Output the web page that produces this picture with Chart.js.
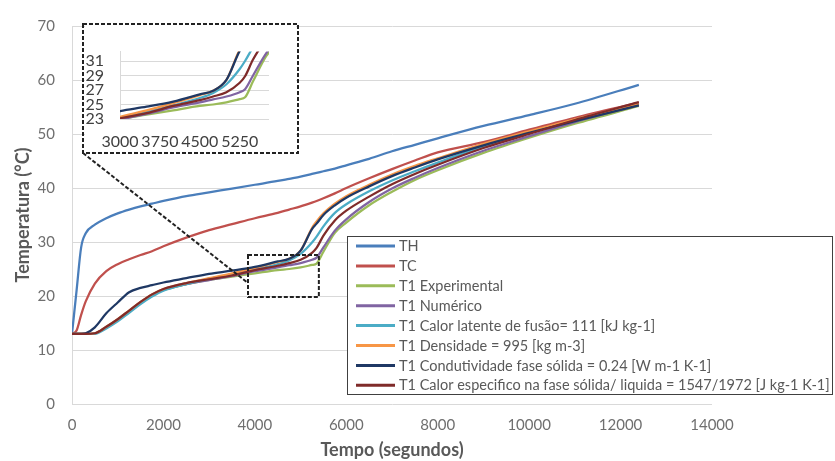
<!DOCTYPE html>
<html>
<head>
<meta charset="utf-8">
<script src="https://cdn.jsdelivr.net/npm/chart.js@4.4.1/dist/chart.umd.min.js"></script>
<style>
  html, body { margin: 0; padding: 0; background: #fff; }
  #wrap { position: relative; width: 835px; height: 461px; }
  #inset { position: absolute; left: 85px; top: 26px; width: 211px; height: 125px; background: #fff; }
</style>
</head>
<body>
<div id="wrap">
  <canvas id="mainChart" width="835" height="461"></canvas>
  <div id="inset"><canvas id="insetChart" width="211" height="125"></canvas></div>
</div>
<script>
// Time axis (seconds), shared by every series
const times = [0, 100, 200, 300, 500, 750, 1000, 1250, 1500, 1750, 2000, 2500,
  3000, 3500, 4000, 4500, 4750, 5000, 5250, 5350, 5500, 5750, 6000, 6500, 7000, 7500, 8000, 9000, 10000, 11000, 12400];

// Temperatures (°C)
const th = [13, 21, 29, 31.6, 33.2, 34.4, 35.3, 36, 36.6, 37.1, 37.6, 38.5,
  39.2, 39.9, 40.6, 41.3, 41.7, 42.1, 42.6, 42.8, 43.1, 43.6, 44.2, 45.4, 46.8, 48, 49.2, 51.5, 53.5, 55.6, 59.1];
const tc = [13, 13.6, 16.5, 19, 22.3, 24.6, 25.9, 26.8, 27.6, 28.3, 29.2, 30.8,
  32.2, 33.3, 34.4, 35.4, 36, 36.6, 37.3, 37.6, 38.1, 39, 40, 41.8, 43.5, 45.1, 46.6, 48.5, 50.8, 53, 55.8];
const t1Experimental = [13, 13, 13, 13, 13.1, 14.2, 15.6, 17.2, 18.8, 20.2, 21.1, 22.2,
  23, 23.6, 24.2, 24.8, 25, 25.3, 25.75, 26, 28.2, 31.7, 33.6, 36.8, 39.3, 41.5, 43.3, 46.5, 49.3, 51.9, 55.2];
const t1Numerico = [13, 13, 13, 13, 13.1, 14.2, 15.5, 17.1, 18.7, 20.1, 21.1, 22.2,
  22.95, 23.7, 24.6, 25.3, 25.7, 26.1, 26.7, 27.1, 29, 32.1, 34.2, 37.4, 39.9, 41.9, 43.7, 46.9, 49.6, 52.2, 55.4];
const t1Latente = [13, 13, 13, 13, 13, 14, 15.3, 16.9, 18.5, 19.9, 21, 22.2,
  23.2, 24, 24.9, 25.9, 26.6, 27.8, 29.9, 31, 32.9, 35.4, 37, 39.4, 41.4, 43.1, 44.7, 47.7, 50.2, 52.6, 55.5];
const t1Densidade = [13, 13, 13, 13, 13.1, 14.3, 15.7, 17.3, 18.9, 20.3, 21.3, 22.4,
  23.3, 24.2, 25.2, 26.3, 26.9, 28.4, 32.6, 33.8, 35.3, 37.1, 38.5, 40.6, 42.5, 44.1, 45.5, 48.2, 50.5, 52.7, 55.6];
const t1Condutividade = [13, 13, 13, 13.1, 14.2, 16.8, 18.8, 20.7, 21.5, 22, 22.5, 23.3,
  24.1, 24.7, 25.4, 26.4, 26.9, 28.4, 32.4, 33.4, 35, 36.8, 38.2, 40.3, 42.2, 43.8, 45.3, 47.9, 50.2, 52.4, 55.3];
const t1CalorEspecifico = [13, 13, 13, 13, 13.1, 14.3, 15.7, 17.3, 18.9, 20.3, 21.3, 22.4,
  23.1, 23.8, 24.8, 25.6, 26.1, 26.7, 28, 28.9, 31.2, 34, 35.8, 38.4, 40.7, 42.6, 44.3, 47.4, 50, 52.6, 55.9];

const seriesNames = [
  "TH",
  "TC",
  "T1 Experimental",
  "T1 Numérico",
  "T1 Calor latente de fusão= 111 [kJ kg-1]",
  "T1 Densidade = 995 [kg m-3]",
  "T1 Condutividade fase sólida = 0.24 [W m-1 K-1]",
  "T1 Calor especifico na fase sólida/ liquida = 1547/1972 [J kg-1 K-1]"
];
const seriesValues = [th, tc, t1Experimental, t1Numerico, t1Latente, t1Densidade, t1Condutividade, t1CalorEspecifico];
const seriesColors = ["#4a7ebb", "#c0504d", "#9bbb59", "#8064a2", "#4bacc6", "#f79646", "#1f3864", "#7f2b2a"];

// Zoomed region (data units) and inset ticks
const zoomBox = { x0: 3850, x1: 5400, y0: 19.8, y1: 27.6 };
const connectorEnd = { x: 3850, y: 22.4 };
const insetXTicks = [3000, 3750, 4500, 5250];
const insetYTicks = [23, 25, 27, 29, 31];

Chart.defaults.font.family = "Lato, 'Open Sans', sans-serif";

function buildDatasets(width, firstIndex) {
  return seriesValues.map((vals, i) => ({
    label: seriesNames[i],
    data: times.map((t, j) => ({ x: t, y: vals[j] })),
    borderColor: seriesColors[i],
    backgroundColor: seriesColors[i],
    borderWidth: width,
    pointRadius: 0,
    cubicInterpolationMode: "monotone",
    order: seriesValues.length - i
  })).slice(firstIndex);
}

const plainTick = v => String(v);

// dashed frame, zoom box, connector and the boxed legend
const overlayPlugin = {
  id: "overlay",
  afterDraw(chart) {
    const { ctx, scales: { x, y } } = chart;
    const frame = { left: 83, top: 24, right: 298, bottom: 153 };
    ctx.save();
    ctx.strokeStyle = "#222";
    ctx.lineWidth = 2;
    ctx.setLineDash([4, 2]);
    ctx.strokeRect(frame.left, frame.top, frame.right - frame.left, frame.bottom - frame.top);
    const bx0 = x.getPixelForValue(zoomBox.x0), bx1 = x.getPixelForValue(zoomBox.x1);
    const by0 = y.getPixelForValue(zoomBox.y0), by1 = y.getPixelForValue(zoomBox.y1);
    ctx.strokeRect(bx0, by1, bx1 - bx0, by0 - by1);
    ctx.beginPath();
    ctx.moveTo(frame.left, frame.bottom);
    ctx.lineTo(x.getPixelForValue(connectorEnd.x), y.getPixelForValue(connectorEnd.y));
    ctx.stroke();
    ctx.setLineDash([]);

    // legend box
    const lg = { left: 347.5, top: 236.5, width: 485, height: 158 };
    ctx.fillStyle = "#fff";
    ctx.fillRect(lg.left, lg.top, lg.width, lg.height);
    ctx.strokeStyle = "#404040";
    ctx.lineWidth = 1;
    ctx.strokeRect(lg.left, lg.top, lg.width, lg.height);
    ctx.font = "14.5px Lato, 'Open Sans', sans-serif";
    ctx.textBaseline = "middle";
    ctx.textAlign = "left";
    seriesNames.forEach((name, i) => {
      const ry = 246 + i * 19.9;
      ctx.strokeStyle = seriesColors[i];
      ctx.lineWidth = 3;
      ctx.beginPath();
      ctx.moveTo(356, ry);
      ctx.lineTo(395, ry);
      ctx.stroke();
      ctx.fillStyle = "#595959";
      ctx.fillText(name, 399, ry + 0.5);
    });
    ctx.restore();
  }
};

new Chart(document.getElementById("mainChart"), {
  type: "line",
  data: { datasets: buildDatasets(2.25, 0) },
  options: {
    responsive: false,
    animation: false,
    layout: { padding: { top: 18, right: 123, left: 0, bottom: 0 } },
    plugins: { legend: { display: false }, tooltip: { enabled: false } },
    scales: {
      x: {
        type: "linear",
        min: 0,
        max: 14000,
        ticks: { stepSize: 2000, color: "#6f6f6f", font: { size: 15 }, padding: 12, maxRotation: 0, callback: plainTick },
        grid: { display: false, drawTicks: false },
        border: { display: false },
        title: { display: true, text: "Tempo (segundos)", color: "#595959", font: { size: 18, weight: "bold" }, padding: { top: 4, bottom: 0 } },
        afterFit: s => { s.height = 57; }
      },
      y: {
        min: 0,
        max: 70,
        ticks: { stepSize: 10, color: "#6f6f6f", font: { size: 15 }, padding: 17, callback: plainTick },
        grid: { color: "#d9d9d9", drawTicks: false },
        border: { display: true, color: "#d9d9d9" },
        title: { display: true, text: "Temperatura (°C)", color: "#595959", font: { size: 18, weight: "bold" }, padding: { top: 12, bottom: 0 } },
        afterFit: s => { s.width = 72; }
      }
    }
  },
  plugins: [overlayPlugin]
});

// inset: the T1 curves only, zoomed on the melting zone
new Chart(document.getElementById("insetChart"), {
  type: "line",
  data: { datasets: buildDatasets(2.25, 2) },
  options: {
    responsive: false,
    animation: false,
    layout: { padding: { top: 7, right: 27, left: 0, bottom: 0 } },
    plugins: { legend: { display: false }, tooltip: { enabled: false } },
    scales: {
      x: {
        type: "linear",
        min: 3000,
        max: 5800,
        afterBuildTicks: s => { s.ticks = insetXTicks.map(v => ({ value: v })); },
        ticks: { color: "#404040", font: { size: 16 }, padding: 13, maxRotation: 0, autoSkip: false, callback: plainTick },
        grid: { display: false, drawTicks: false },
        border: { display: false },
        afterFit: s => { s.height = 32; }
      },
      y: {
        min: 23,
        max: 32.3,
        afterBuildTicks: s => { s.ticks = insetYTicks.map(v => ({ value: v })); },
        ticks: { color: "#404040", font: { size: 16 }, padding: 16, autoSkip: false, callback: plainTick },
        grid: { color: "#d9d9d9", drawTicks: false },
        border: { display: true, color: "#d9d9d9" },
        afterFit: s => { s.width = 35; }
      }
    }
  }
});
</script>
</body>
</html>
